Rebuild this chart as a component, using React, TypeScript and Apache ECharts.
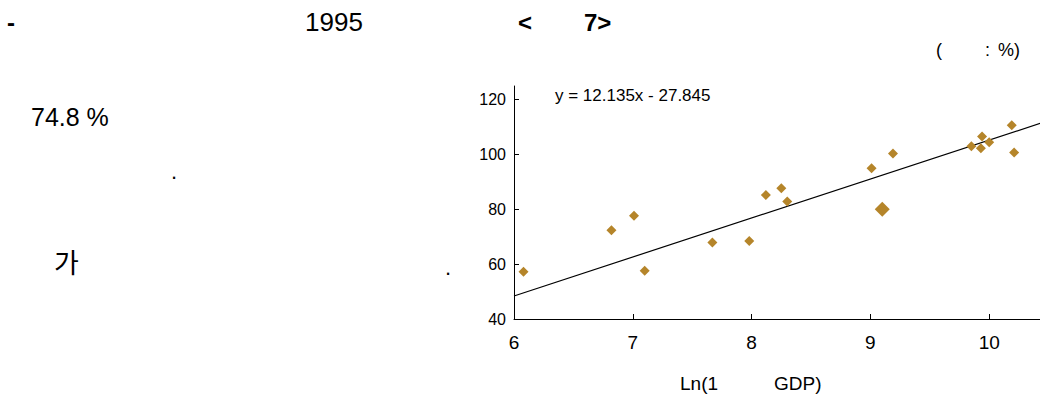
import React, { useEffect, useRef } from "react";
import * as echarts from "echarts";

// Scatter: Ln(GDP per capita) vs rate (%)
const lnGdp = [6.08, 6.82, 7.01, 7.1, 7.67, 7.98, 8.12, 8.25, 8.3, 9.01, 9.19, 9.85, 9.94, 9.93, 10.0, 10.19, 10.21];
const rate = [57.2, 72.4, 77.7, 57.6, 67.9, 68.5, 85.2, 87.7, 82.9, 95.0, 100.4, 103.0, 106.6, 102.3, 104.5, 110.7, 100.7];
// highlighted point (larger marker)
const highlightX = [9.1];
const highlightY = [80.0];
// trend line as drawn
const trendX = [6, 11];
const trendY = [48.4, 119.5];
const yTicks = [40, 60, 80, 100, 120];
const xTicks = [6, 7, 8, 9, 10];
const equation = "y = 12.135x - 27.845";

const FONT = "'Liberation Sans', Arial, sans-serif";
const GOLD = "#B5852A";

export default function App() {
  const ref = useRef<HTMLDivElement>(null);
  useEffect(() => {
    document.body.style.margin = "0";
    if (!ref.current) return;
    const chart = echarts.init(ref.current, null, { renderer: "svg" });
    const t = (text: string, x: number, y: number, size: number, extra: any = {}) => ({
      type: "text",
      x,
      y,
      silent: true,
      style: {
        text,
        fontSize: size,
        fontFamily: FONT,
        fill: "#000",
        align: "left",
        verticalAlign: "middle",
        ...extra,
      },
    });
    chart.setOption({
      animation: false,
      backgroundColor: "#fff",
      grid: { left: 514, right: 2, top: 86, bottom: 83 },
      xAxis: {
        type: "value",
        min: 6,
        max: 11,
        interval: 1,
        splitLine: { show: false },
        axisLine: { lineStyle: { color: "#000", width: 1 } },
        axisTick: { inside: true, length: 5, lineStyle: { color: "#000" }, customValues: xTicks },
        axisLabel: { color: "#000", fontSize: 19, fontFamily: FONT, margin: 14, customValues: xTicks },
      },
      yAxis: {
        type: "value",
        min: 40,
        max: 125,
        interval: 20,
        splitLine: { show: false },
        axisLine: { show: true, lineStyle: { color: "#000", width: 1 } },
        axisTick: { show: true, inside: true, length: 5, lineStyle: { color: "#000" }, customValues: yTicks },
        axisLabel: { color: "#000", fontSize: 16, fontFamily: FONT, margin: 8, customValues: yTicks },
      },
      series: [
        {
          type: "line",
          data: trendX.map((x, i) => [x, trendY[i]]),
          symbol: "none",
          lineStyle: { color: "#000", width: 1.2 },
          z: 1,
        },
        {
          type: "scatter",
          data: lnGdp.map((x, i) => [x, rate[i]]),
          symbol: "diamond",
          symbolSize: 10,
          itemStyle: { color: GOLD, opacity: 1 },
          z: 2,
        },
        {
          type: "scatter",
          data: highlightX.map((x, i) => [x, highlightY[i]]),
          symbol: "diamond",
          symbolSize: 15,
          itemStyle: { color: GOLD, opacity: 1 },
          z: 2,
        },
      ],
      graphic: [
        t("-", 7, 22, 24, { fontWeight: "bold" }),
        t("1995", 305, 22, 26),
        t("<", 518, 22, 24, { fontWeight: "bold" }),
        t("7>", 584, 22, 24, { fontWeight: "bold" }),
        t("(", 936, 50, 18),
        t(":", 985, 50, 18),
        t("%)", 998, 50, 18),
        t("74.8 %", 31, 117, 25),
        t(".", 171, 171, 22),
        t("가", 54, 261, 27, { fontFamily: "'Noto Sans CJK KR', sans-serif" }),
        t(".", 445, 267, 22),
        t(equation, 555, 95, 17),
        t("Ln(1", 680, 383, 19),
        t("GDP)", 774, 383, 19),
      ],
    });
    return () => chart.dispose();
  }, []);
  return (
    <div style={{ width: 1040, height: 402, overflow: "hidden", position: "relative" }}>
      <div ref={ref} style={{ width: 1110, height: 402 }} />
    </div>
  );
}
